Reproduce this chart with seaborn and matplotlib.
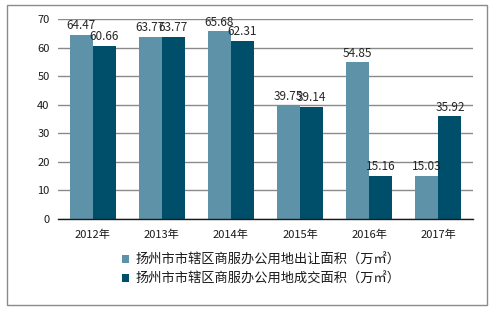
import matplotlib
matplotlib.use("Agg")
import matplotlib.pyplot as plt
import seaborn as sns
import pandas as pd
from matplotlib.patches import Rectangle

years = ["2012年", "2013年", "2014年", "2015年", "2016年", "2017年"]
series_names = ["扬州市市辖区商服办公用地出让面积（万㎡）", "扬州市市辖区商服办公用地成交面积（万㎡）"]
transfer = [64.47, 63.77, 65.68, 39.75, 54.85, 15.03]
deal = [60.66, 63.77, 62.31, 39.14, 15.16, 35.92]
yticks = [0, 10, 20, 30, 40, 50, 60, 70]

df = pd.DataFrame({
    "year": years * 2,
    "value": transfer + deal,
    "series": [series_names[0]] * len(years) + [series_names[1]] * len(years),
})

sns.set_theme(style="white")
plt.rcParams["font.family"] = ["Noto Sans CJK SC", "DejaVu Sans"]

W, H = 499, 309
fig = plt.figure(figsize=(W / 100, H / 100), dpi=100)
ax = fig.add_axes([58 / W, 1 - 219 / H, (473 - 58) / W, 200 / H])

palette = ["#5E92A9", "#004F6A"]
sns.barplot(data=df, x="year", y="value", hue="series", palette=palette,
            width=2 / 3, gap=0, saturation=1, linewidth=0, ax=ax)

for cont in ax.containers:
    ax.bar_label(cont, fmt="%.2f", padding=2, fontsize=8.5, color="#262626")

ax.set_ylim(0, 70)
ax.set_xlim(-0.5, 5.5)
ax.set_yticks(yticks)
ax.yaxis.grid(True, color="#8a8a8a", linewidth=1)
ax.set_axisbelow(True)
for s in ["left", "right", "top"]:
    ax.spines[s].set_visible(False)
ax.spines["bottom"].set_color("#1a1a1a")
ax.spines["bottom"].set_linewidth(1)
ax.tick_params(axis="both", length=0, labelsize=8, colors="#1a1a1a", pad=6)
ax.tick_params(axis="x", pad=8)
ax.set_xlabel("")
ax.set_ylabel("")

sns.move_legend(ax, "upper left", bbox_to_anchor=(122 / W, 1 - 254 / H),
                bbox_transform=fig.transFigure, frameon=False, title=None,
                fontsize=9.5, handlelength=0.55, handleheight=0.55,
                handletextpad=0.5, labelspacing=0.45, borderaxespad=0, borderpad=0)
for t in ax.get_legend().get_texts():
    t.set_color("#1a1a1a")

fig.patches.append(Rectangle((7 / W, 1 - 305 / H), 480 / W, 300 / H,
                             transform=fig.transFigure, fill=False,
                             edgecolor="#8a8a8a", linewidth=1))

fig.savefig("out.png", dpi=100)
